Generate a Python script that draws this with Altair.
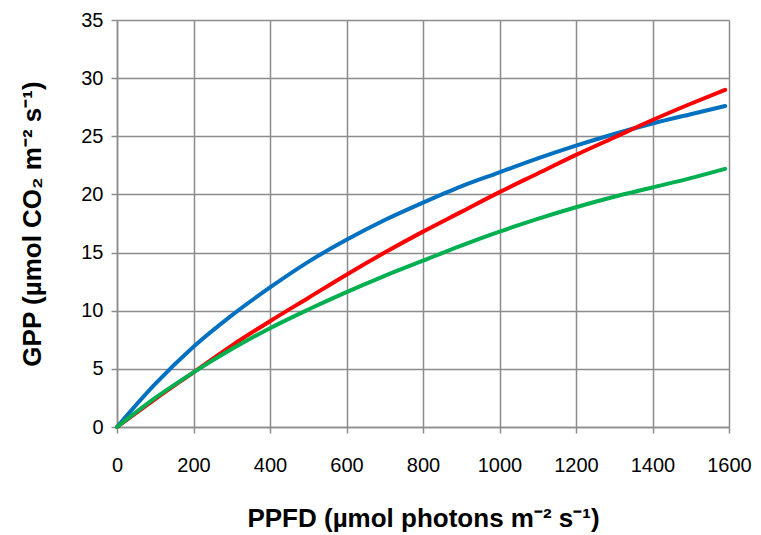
import altair as alt
import pandas as pd

ppfd = [0, 100, 200, 300, 400, 500, 600, 700, 800, 900, 1000, 1100, 1200, 1300, 1400, 1500, 1590]
gpp_blue = [0, 3.7, 6.9, 9.6, 12.0, 14.2, 16.1, 17.8, 19.3, 20.7, 21.9, 23.1, 24.2, 25.2, 26.1, 26.9, 27.6]
gpp_red = [0, 2.4, 4.7, 7.0, 9.1, 11.1, 13.1, 15.0, 16.8, 18.5, 20.2, 21.8, 23.4, 24.9, 26.4, 27.8, 29.0]
gpp_green = [0, 2.5, 4.7, 6.7, 8.5, 10.1, 11.6, 13.0, 14.3, 15.6, 16.8, 17.9, 18.9, 19.8, 20.6, 21.4, 22.2]

series_names = ["blue", "red", "green"]
series_colors = ["#0070C0", "#FF0000", "#00B050"]

rows = []
for name, vals in zip(series_names, [gpp_blue, gpp_red, gpp_green]):
    for x, y in zip(ppfd, vals):
        rows.append({"series": name, "PPFD": x, "GPP": y})
df = pd.DataFrame(rows)

grid_col = "#8C8C8C"

chart = alt.Chart(df).mark_line(strokeWidth=4, strokeCap="round", interpolate="monotone").encode(
    x=alt.X("PPFD:Q",
            scale=alt.Scale(domain=[0, 1600], nice=False, zero=True),
            axis=alt.Axis(values=list(range(0, 1601, 200)), format="d",
                          title="PPFD (µmol photons m⁻² s⁻¹)",
                          labelPadding=22, titlePadding=30)),
    y=alt.Y("GPP:Q",
            scale=alt.Scale(domain=[0, 35], nice=False),
            axis=alt.Axis(values=list(range(0, 36, 5)), format="d",
                          title="GPP (µmol CO₂ m⁻² s⁻¹)",
                          labelPadding=8, titlePadding=35)),
    color=alt.Color("series:N", scale=alt.Scale(domain=series_names, range=series_colors), legend=None),
    detail="series:N",
    order=alt.Order("PPFD:Q"),
).properties(
    width=612, height=407,
    autosize=alt.AutoSizeParams(type="none"),
    padding={"left": 117, "top": 20, "right": 32, "bottom": 108},
).configure(background="white").configure_view(stroke=None).configure_axis(
    grid=True, gridColor=grid_col, gridWidth=1.5, gridOpacity=1,
    domainColor=grid_col, domainWidth=1.5,
    tickColor=grid_col, tickWidth=1.5, tickSize=6,
    labelFont="Liberation Sans", labelFontSize=20, labelColor="#000000",
    titleFont="Liberation Sans", titleFontSize=26, titleFontWeight="bold", titleColor="#000000",
    labelFlush=False, labelOverlap=False,
)

chart.save("out.html", embed_options={"renderer": "svg", "actions": False})
